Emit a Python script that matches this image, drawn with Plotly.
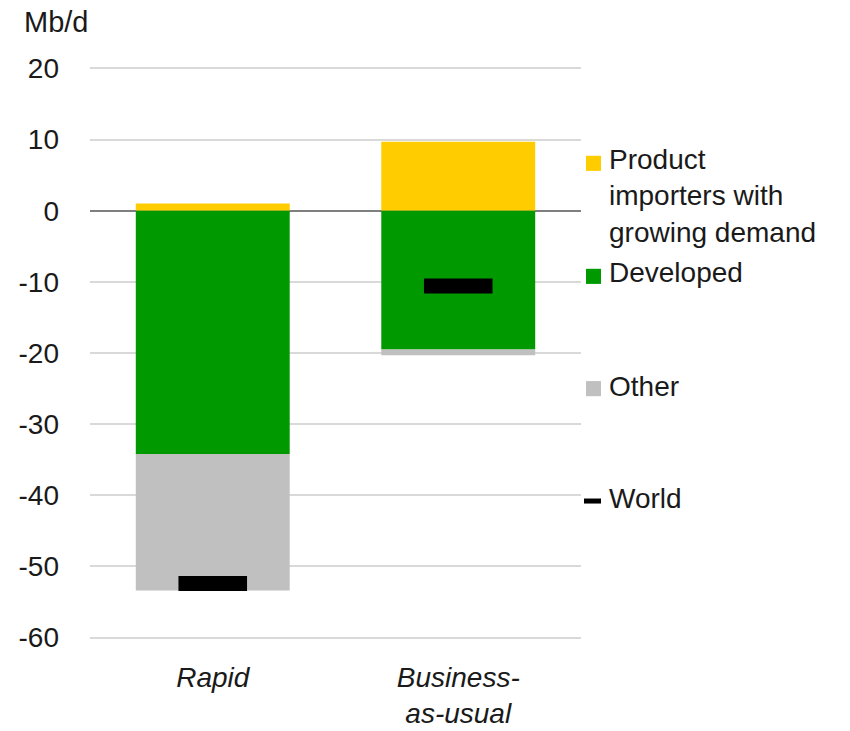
import plotly.graph_objects as go

# Data (Mb/d)
scenarios = ["Rapid", "Business-<br>as-usual"]
product_importers = [1.0, 9.7]
developed = [-34.2, -19.5]
other = [-19.2, -0.8]
world = [-52.4, -10.6]

y_ticks = [20, 10, 0, -10, -20, -30, -40, -50, -60]
y_tick_labels = ["20", "10", "0", "-10", "-20", "-30", "-40", "-50", "-60"]

colors = {"product": "#ffcc00", "developed": "#009900", "other": "#c0c0c0", "world": "#000000"}
font_family = "Liberation Sans, Arial, sans-serif"
text_color = "#1a1a1a"

fig = go.Figure()

fig.add_trace(go.Bar(x=scenarios, y=product_importers, name="Product importers with growing demand",
                     marker=dict(color=colors["product"], line=dict(width=0))))
fig.add_trace(go.Bar(x=scenarios, y=developed, name="Developed",
                     marker=dict(color=colors["developed"], line=dict(width=0))))
fig.add_trace(go.Bar(x=scenarios, y=other, name="Other",
                     marker=dict(color=colors["other"], line=dict(width=0))))
# line-ew length is 1.4 x size, so size 49 gives a ~69px dash
fig.add_trace(go.Scatter(x=scenarios, y=world, name="World", mode="markers",
                         marker=dict(symbol="line-ew", size=49, color=colors["world"],
                                     line=dict(width=15, color=colors["world"]))))

fig.update_layout(
    width=850, height=731,
    margin=dict(l=90, r=269, t=67, b=92),
    barmode="relative",
    bargap=0.373,
    showlegend=False,
    plot_bgcolor="white",
    paper_bgcolor="white",
    font=dict(family=font_family, size=28, color=text_color),
)

# a little padding so plotly keeps the 20 and -60 gridlines
fig.update_yaxes(
    range=[-60.2, 20.2],
    tickvals=y_ticks, ticktext=y_tick_labels,
    showgrid=True, gridcolor="#d9d9d9", gridwidth=1.5,
    zeroline=True, zerolinecolor="#7f7f7f", zerolinewidth=1.5,
    showline=False, ticks="",
    ticklabelstandoff=30,
    automargin=False,
    fixedrange=True,
)
fig.update_xaxes(
    showgrid=False, showline=False, ticks="",
    tickfont=dict(family=font_family, size=28, color=text_color, style="italic"),
    ticklabelstandoff=19,
    automargin=False,
    fixedrange=True,
)

# Unit label
fig.add_annotation(text="Mb/d", xref="paper", yref="paper", x=-0.138, y=1.079,
                   xanchor="left", yanchor="middle", showarrow=False,
                   font=dict(size=29, color=text_color))

# Manual legend, spaced as in the reference
legend_items = [
    ("Product<br>importers with<br>growing demand", colors["product"], 0.8316, 0.7737, "square"),
    ("Developed", colors["developed"], 0.634, 0.6404, "square"),
    ("Other", colors["other"], 0.4377, 0.442, "square"),
    ("World", colors["world"], 0.2412, 0.2456, "dash"),
]
for label, col, ys, yt, kind in legend_items:
    if kind == "square":
        fig.add_shape(type="rect", xref="paper", yref="paper",
                      x0=1.0102, x1=1.0407, y0=ys - 0.0132, y1=ys + 0.0132,
                      fillcolor=col, line=dict(width=0))
    else:
        fig.add_shape(type="rect", xref="paper", yref="paper",
                      x0=1.0061, x1=1.0407, y0=ys - 0.0044, y1=ys + 0.0044,
                      fillcolor=col, line=dict(width=0))
    fig.add_annotation(text=label, xref="paper", yref="paper", x=1.053, y=yt,
                       xanchor="left", yanchor="middle", align="left", showarrow=False,
                       font=dict(size=28, color=text_color))

# drop the browser's default body margin so the figure sits at the page origin
fig.write_html("out.html", config={"displayModeBar": False},
               post_script="document.body.style.margin='0px';")
